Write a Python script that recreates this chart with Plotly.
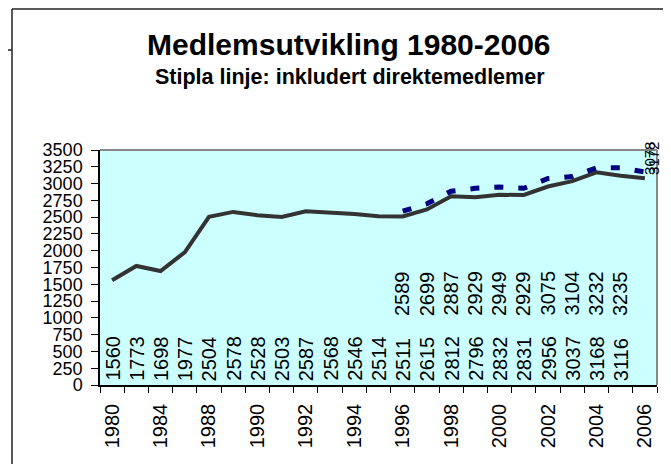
import plotly.graph_objects as go

years = ["1980", "1982", "1984", "1986", "1988", "1989", "1990", "1991", "1992",
         "1993", "1994", "1995", "1996", "1997", "1998", "1999", "2000", "2001",
         "2002", "2003", "2004", "2005", "2006"]
members = [1560, 1773, 1698, 1977, 2504, 2578, 2528, 2503, 2587, 2568, 2546,
           2514, 2511, 2615, 2812, 2796, 2832, 2831, 2956, 3037, 3168, 3116, 3078]
# med direktemedlemer, fra 1996
direct_years = years[12:]
with_direct = [2589, 2699, 2887, 2929, 2949, 2929, 3075, 3104, 3232, 3235, 3172]
tick_labels = ["1980", "1984", "1988", "1990", "1992", "1994", "1996", "1998",
               "2000", "2002", "2004", "2006"]

# siden har 8px body-marg, så figuren gjøres 16px mindre
OFF = 8
W, H = 671 - 2 * OFF, 472 - 2 * OFF
M = dict(l=100 - OFF, r=W - (657 - OFF), t=150 - OFF, b=H - (385 - OFF))
FONT = "Liberation Sans, Arial, sans-serif"

pw = W - M["l"] - M["r"]
ph = H - M["t"] - M["b"]


def px_x(p):
    # sidepiksel -> paper-koordinat
    return (p - OFF - M["l"]) / pw


def px_y(p):
    return (H - M["b"] - (p - OFF)) / ph


idx = {y: i for i, y in enumerate(years)}
x_all = [idx[y] for y in years]
x_dir = [idx[y] for y in direct_years]

fig = go.Figure()
fig.add_trace(go.Scatter(
    x=x_all, y=members, mode="lines", name="Medlemmer",
    line=dict(color="#333333", width=4),
    hovertemplate="%{text}: %{y}<extra></extra>", text=years,
))
fig.add_trace(go.Scatter(
    x=x_dir, y=with_direct, mode="lines", name="Inkl. direktemedlemer",
    line=dict(color="#000080", width=5, dash="9px,15px"),
    hovertemplate="%{text}: %{y}<extra></extra>", text=direct_years,
))

annotations = []
# dataetiketter nederst i plottet (som i Excel-originalen)
for x, v in zip(x_all[:-1], members[:-1]):
    annotations.append(dict(x=x, y=0, yshift=2, text=str(v), textangle=-90,
                            yanchor="bottom", showarrow=False,
                            font=dict(size=20, color="black", family=FONT)))
for x, v in zip(x_dir[:-1], with_direct[:-1]):
    annotations.append(dict(x=x, y=1000, text=str(v), textangle=-90,
                            yanchor="bottom", showarrow=False,
                            font=dict(size=20, color="black", family=FONT)))
# siste år havner oppe til høyre
for dx, v in ((4, members[-1]), (8, with_direct[-1])):
    annotations.append(dict(x=x_all[-1], xshift=dx, y=3380, text=str(v),
                            textangle=-90, yanchor="middle", showarrow=False,
                            font=dict(size=15, color="black", family=FONT)))

annotations.append(dict(xref="paper", yref="paper", x=px_x(349), y=px_y(45),
                        text="<b>Medlemsutvikling 1980-2006</b>", showarrow=False,
                        yanchor="middle", font=dict(size=30, color="black", family=FONT)))
annotations.append(dict(xref="paper", yref="paper", x=px_x(350), y=px_y(77),
                        text="<b>Stipla linje: inkludert direktemedlemer</b>",
                        showarrow=False, yanchor="middle",
                        font=dict(size=21.5, color="black", family=FONT)))

frame = dict(color="#222222", width=1.5)
shapes = [
    # ramme rundt diagrammet
    dict(type="line", xref="paper", yref="paper", x0=px_x(12), x1=px_x(12),
         y0=px_y(9), y1=px_y(480), line=frame),
    dict(type="line", xref="paper", yref="paper", x0=px_x(12), x1=px_x(680),
         y0=px_y(9), y1=px_y(9), line=frame),
    dict(type="line", xref="paper", yref="paper", x0=px_x(0), x1=px_x(12),
         y0=px_y(50), y1=px_y(50), line=frame),
    # plotområdets øvre og høyre kant
    dict(type="line", xref="paper", yref="paper", x0=0, x1=1, y0=1, y1=1,
         line=dict(color="#888888", width=2)),
    dict(type="line", xref="paper", yref="paper", x0=1, x1=1, y0=0, y1=1,
         line=dict(color="#888888", width=2)),
]

fig.update_layout(
    width=W, height=H,
    margin=M,
    paper_bgcolor="white",
    plot_bgcolor="#CCFFFF",
    showlegend=False,
    font=dict(family=FONT, color="black"),
    annotations=annotations,
    shapes=shapes,
    xaxis=dict(
        range=[-0.5, len(years) - 0.5],
        tickvals=[idx[t] for t in tick_labels],
        ticktext=tick_labels,
        tickangle=-90,
        ticks="",
        ticklabelstandoff=9,
        tickfont=dict(size=20, family=FONT, color="black"),
        showgrid=False, zeroline=False,
        showline=True, linecolor="black", linewidth=1.5,
        minor=dict(tickvals=[i - 0.5 for i in range(len(years) + 1)],
                   ticks="outside", ticklen=6, tickcolor="black", showgrid=False),
    ),
    yaxis=dict(
        range=[0, 3500],
        dtick=250,
        ticks="outside", ticklen=7, tickcolor="black",
        ticklabelstandoff=5,
        tickfont=dict(size=18, family=FONT, color="black"),
        showgrid=False, zeroline=False,
        showline=True, linecolor="black", linewidth=1.5,
    ),
)

fig.write_html("out.html")
